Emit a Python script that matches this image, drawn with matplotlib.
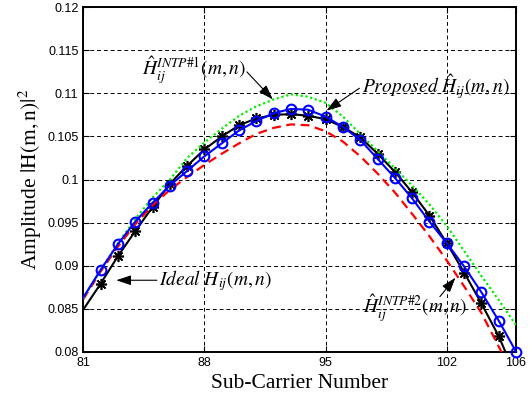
import numpy as np
import matplotlib
matplotlib.use('Agg')
from matplotlib import pyplot as plt
from matplotlib.ticker import FormatStrFormatter

# sub-carrier index and |H(m,n)|^2
carriers = [81, 82, 83, 84, 85, 86, 87, 88, 89, 90, 91, 92, 93,
            94, 95, 96, 97, 98, 99, 100, 101, 102, 103, 104, 105, 106]
ideal = [0.0849, 0.0879, 0.0911, 0.0940, 0.0968, 0.0995, 0.1016, 0.1035, 0.1050,
         0.1063, 0.1071, 0.1075, 0.1076, 0.1074, 0.1070, 0.1061, 0.1049, 0.1030,
         0.1009, 0.0985, 0.0958, 0.0926, 0.0892, 0.0856, 0.0818, 0.0771]
proposed = [0.0863, 0.0895, 0.0925, 0.0951, 0.0973, 0.0993, 0.1010, 0.1027, 0.1042,
            0.1057, 0.1068, 0.1077, 0.1082, 0.1081, 0.1073, 0.1061, 0.1046, 0.1024,
            0.1002, 0.0978, 0.0951, 0.0926, 0.0899, 0.0869, 0.0836, 0.0800]
intp1 = [0.0862, 0.0895, 0.0926, 0.0954, 0.0979, 0.1000, 0.1025, 0.1043, 0.1059,
         0.1074, 0.1085, 0.1093, 0.1099, 0.1096, 0.1089, 0.1073, 0.1053, 0.1033,
         0.1013, 0.0993, 0.0971, 0.0946, 0.0917, 0.0888, 0.0860, 0.0831]
intp2 = [0.0861, 0.0893, 0.0922, 0.0948, 0.0970, 0.0988, 0.1003, 0.1017, 0.1030,
         0.1042, 0.1053, 0.1060, 0.1064, 0.1063, 0.1056, 0.1044, 0.1027, 0.1007,
         0.0985, 0.0960, 0.0934, 0.0906, 0.0876, 0.0845, 0.0806, 0.0766]

xticks = [81, 88, 95, 102, 106]
yticks = [0.08, 0.085, 0.09, 0.095, 0.1, 0.105, 0.11, 0.115, 0.12]

plt.rcParams['mathtext.fontset'] = 'stix'

fig = plt.figure(figsize=(5.32, 4.01), dpi=100)
ax = fig.add_axes([0.1566, 0.1229, 0.8134, 0.8589])

# no marker on the first sample (81), as in the original
ax.plot(carriers, ideal, color='black', lw=1.5, marker=(8, 2, 0), ms=8, mew=1.2,
        markevery=slice(1, None), zorder=3)
ax.plot(carriers, intp2, color='red', lw=1.6, ls=(0, (4, 2.5)), zorder=3)
ax.plot(carriers, intp1, color='#00ee00', lw=1.6, ls=(0, (1, 1.2)), zorder=3)
ax.plot(carriers, proposed, color='blue', lw=1.5, marker='o', ms=7, mfc='none', mew=1.5,
        markevery=slice(1, None), zorder=4, clip_on=False)

ax.set_xlim(81, 106)
ax.set_ylim(0.08, 0.12)
ax.set_xticks(xticks)
ax.set_yticks(yticks)
ax.yaxis.set_major_formatter(FormatStrFormatter('%g'))
ax.tick_params(direction='in', length=4, width=0.8, top=True, right=True, labelsize=9)
for lbl in ax.get_xticklabels() + ax.get_yticklabels():
    lbl.set_family('Liberation Sans')
ax.grid(True, color='black', ls=(0, (4, 3)), lw=0.7)
ax.set_axisbelow(True)
for s in ax.spines.values():
    s.set_linewidth(1.4)

ax.set_xlabel('Sub-Carrier Number', family='Liberation Serif', fontsize=15.5, labelpad=4)
ax.set_ylabel(r'Amplitude $|\mathrm{H(m,n)}|^2$', family='Liberation Serif', fontsize=15.5,
              labelpad=2)

arrow = dict(arrowstyle='-|>,head_length=0.9,head_width=0.3', color='black', lw=0.8,
             shrinkA=0, shrinkB=0)
tsize = 14

ax.text(87.4, 0.1127, r'$\hat{H}_{ij}^{INTP\#1}(m,n)$', fontsize=tsize, ha='center', va='center')
ax.annotate('', xy=(91.95, 0.1093), xytext=(90.45, 0.1125), arrowprops=arrow)

ax.text(101.4, 0.1108, r'$Proposed\ \hat{H}_{ij}(m,n)$', fontsize=tsize, ha='center', va='center')
ax.annotate('', xy=(95.05, 0.1080), xytext=(96.95, 0.1106), arrowprops=arrow)

ax.text(85.4, 0.0883, r'$Ideal\ H_{ij}(m,n)$', fontsize=tsize, ha='left', va='center')
ax.annotate('', xy=(82.9, 0.0883), xytext=(85.25, 0.0883), arrowprops=arrow)

ax.text(100.15, 0.0850, r'$\hat{H}_{ij}^{INTP\#2}(m,n)$', fontsize=tsize, ha='center', va='center')
ax.annotate('', xy=(102.5, 0.0886), xytext=(101.6, 0.0864), arrowprops=arrow)

fig.savefig('out.png', dpi=100)
